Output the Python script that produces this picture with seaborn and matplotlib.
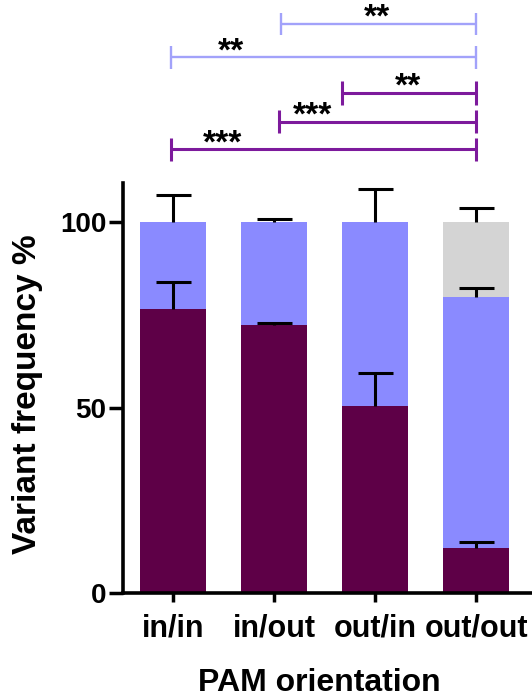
import numpy as np
import pandas as pd
import matplotlib
matplotlib.use("Agg")
import matplotlib.pyplot as plt
import seaborn as sns

# ---- data ----
categories = ["in/in", "in/out", "out/in", "out/out"]
dark_vals = [76.5, 72.2, 50.4, 12.1]
dark_err = [7.3, 0.6, 8.9, 1.6]
blue_vals = [23.5, 27.8, 49.6, 67.7]
blue_err = [7.5, 1.0, 8.9, 2.4]
gray_vals = [0.0, 0.0, 0.0, 20.2]
gray_err = [np.nan, np.nan, np.nan, 3.8]

# significance brackets (category-scale positions)
br_left = [-0.02, 1.05, 1.67, -0.02, 1.07]
br_right = [3.0, 3.0, 3.0, 3.0, 3.0]
br_y = [119.7, 127.2, 135.0, 144.5, 153.6]
br_label = ["***", "***", "**", "**", "**"]
br_label_x = [0.49, 1.38, 2.33, 0.57, 2.02]
br_kind = ["purple", "purple", "purple", "blue", "blue"]

yticks = [0, 50, 100]

# ---- style ----
sns.set_style("ticks")
plt.rcParams["font.family"] = ["Liberation Sans", "DejaVu Sans"]
plt.rcParams["font.weight"] = "bold"
for k in ["text.color", "axes.labelcolor", "xtick.color", "ytick.color", "axes.edgecolor"]:
    plt.rcParams[k] = "black"

C_DARK = "#5e0047"
C_BLUE = "#8a8aff"
C_GRAY = "#d4d4d4"
C_BR = {"purple": "#7d1a9c", "blue": "#a2a2fa"}

fig = plt.figure(figsize=(5.32, 6.98), dpi=100)
ax = fig.add_axes([123 / 532, 105 / 698, 409 / 532, 593 / 698])

df = pd.DataFrame({
    "cat": categories,
    "dark": dark_vals,
    "blue": blue_vals,
    "gray": gray_vals,
})
df["top_dark"] = df["dark"]
df["top_blue"] = df["dark"] + df["blue"]
df["top_gray"] = df["top_blue"] + df["gray"]

for col, c in [("top_gray", C_GRAY), ("top_blue", C_BLUE), ("top_dark", C_DARK)]:
    sns.barplot(data=df, x="cat", y=col, order=categories, color=c, width=0.66,
                saturation=1, errorbar=None, linewidth=0, ax=ax)

xpos = np.arange(len(categories))
for col, err in [("top_dark", dark_err), ("top_blue", blue_err), ("top_gray", gray_err)]:
    e = np.array(err, dtype=float)
    m = ~np.isnan(e)
    _, caps, _ = ax.errorbar(xpos[m], df[col].values[m], yerr=[np.zeros(m.sum()), e[m]],
                             fmt="none", ecolor="black", elinewidth=2.2, capsize=12.6,
                             capthick=2.2, zorder=5)
    caps[0].set_visible(False)  # only the upper cap (one-sided error bar)

# brackets
for l, r, y, lab, lx, k in zip(br_left, br_right, br_y, br_label, br_label_x, br_kind):
    col = C_BR[k]
    lw = 2.2 if k == "purple" else 1.7
    h = 3.2 if k == "purple" else 3.0
    ax.plot([l, r], [y, y], color=col, lw=lw, clip_on=False, solid_capstyle="butt")
    ax.plot([l, l], [y - h, y + h], color=col, lw=lw, clip_on=False, solid_capstyle="butt")
    ax.plot([r, r], [y - h, y + h], color=col, lw=lw, clip_on=False, solid_capstyle="butt")
    ax.text(lx, y - 0.8, lab, ha="center", va="baseline", fontsize=24,
            fontweight="bold", color="black")

ax.set_ylim(0, 160)
ax.set_xlim(-0.495, 3.554)
ax.set_yticks(yticks)
ax.set_yticklabels([str(t) for t in yticks], fontsize=20, fontweight="bold")
ax.set_xticks(xpos)
ax.set_xticklabels(categories, fontsize=22, fontweight="bold")

sns.despine(ax=ax, top=True, right=True)
ax.spines["left"].set_bounds(0, 110.6)
ax.spines["left"].set_linewidth(2.6)
ax.spines["bottom"].set_linewidth(2.6)
ax.tick_params(axis="y", length=10, width=2.5, pad=2, color="black")
ax.tick_params(axis="x", length=6.5, width=2.5, pad=8, color="black")

ax.set_ylabel("Variant frequency %", fontsize=24, fontweight="bold")
ax.yaxis.set_label_coords(-0.196, 0.336)
ax.set_xlabel("PAM orientation", fontsize=23, fontweight="bold")
ax.xaxis.set_label_coords(0.479, -0.126)

fig.savefig("out.png", dpi=100)
